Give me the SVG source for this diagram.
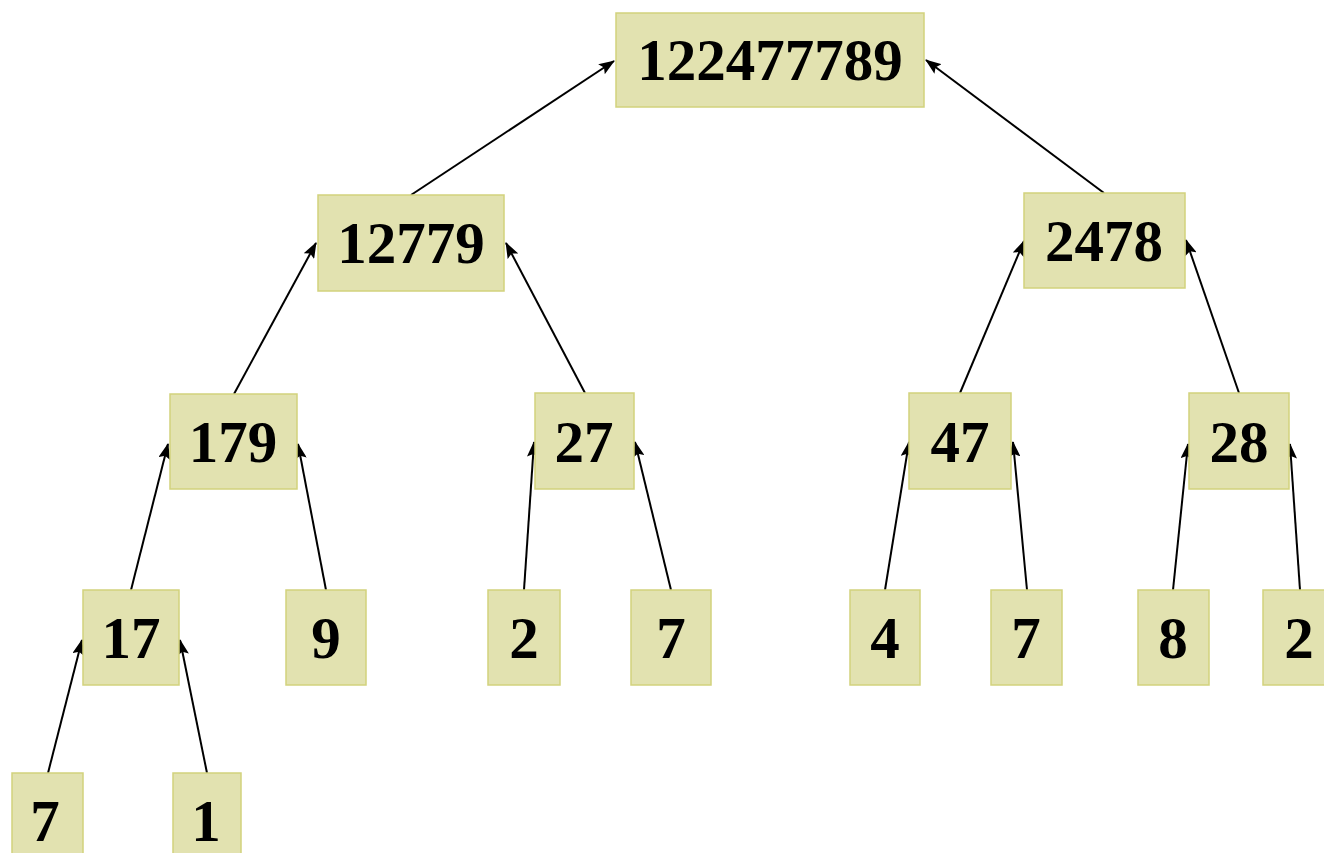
<svg xmlns="http://www.w3.org/2000/svg" width="1324" height="853" viewBox="0 0 1324 853">
<style>
.box{fill:#E2E2B0;stroke:#D2D27C;stroke-width:1.5}
.t{font-family:"Liberation Serif","DejaVu Serif",serif;font-weight:bold;font-size:59px;fill:#000;text-anchor:middle}
.c{stroke:#000;stroke-width:2;fill:none;marker-end:url(#ah)}
</style>
<defs>
<marker id="ah" markerWidth="16" markerHeight="12" refX="15" refY="6" orient="auto" markerUnits="userSpaceOnUse">
<path d="M0,0 L16,6 L0,12 L3,6 Z" fill="#000"/>
</marker>
</defs>
<rect width="1324" height="853" fill="#fff"/>
<g id="connectors">
<line class="c" x1="411" y1="195" x2="614" y2="61"/>
<line class="c" x1="1104" y1="193" x2="926" y2="60"/>
<line class="c" x1="234" y1="394" x2="316" y2="243"/>
<line class="c" x1="585" y1="393" x2="506" y2="243"/>
<line class="c" x1="960" y1="393" x2="1024" y2="241"/>
<line class="c" x1="1239" y1="393" x2="1186" y2="240"/>
<line class="c" x1="131" y1="590" x2="168" y2="444"/>
<line class="c" x1="326" y1="590" x2="298" y2="444"/>
<line class="c" x1="524" y1="590" x2="534" y2="442"/>
<line class="c" x1="671" y1="590" x2="635" y2="442"/>
<line class="c" x1="885" y1="590" x2="909" y2="442"/>
<line class="c" x1="1027" y1="590" x2="1013" y2="442"/>
<line class="c" x1="1173" y1="590" x2="1188" y2="444"/>
<line class="c" x1="1300" y1="590" x2="1290" y2="444"/>
<line class="c" x1="48" y1="773" x2="82" y2="640"/>
<line class="c" x1="207" y1="773" x2="180" y2="640"/>
</g>
<g id="n-root"><rect class="box" x="616" y="13" width="308" height="94"/><text class="t" x="770" y="80">122477789</text></g>
<g id="n-12779"><rect class="box" x="318" y="195" width="186" height="96"/><text class="t" x="411" y="263">12779</text></g>
<g id="n-2478"><rect class="box" x="1024" y="193" width="161" height="95"/><text class="t" x="1104" y="261">2478</text></g>
<g id="n-179"><rect class="box" x="170" y="394" width="127" height="95"/><text class="t" x="233" y="462">179</text></g>
<g id="n-27"><rect class="box" x="535" y="393" width="99" height="96"/><text class="t" x="584" y="462">27</text></g>
<g id="n-47"><rect class="box" x="909" y="393" width="102" height="96"/><text class="t" x="960" y="462">47</text></g>
<g id="n-28"><rect class="box" x="1189" y="393" width="100" height="96"/><text class="t" x="1239" y="462">28</text></g>
<g id="n-17"><rect class="box" x="83" y="590" width="96" height="95"/><text class="t" x="131" y="658">17</text></g>
<g id="n-9"><rect class="box" x="286" y="590" width="80" height="95"/><text class="t" x="326" y="658">9</text></g>
<g id="n-2a"><rect class="box" x="488" y="590" width="72" height="95"/><text class="t" x="524" y="658">2</text></g>
<g id="n-7a"><rect class="box" x="631" y="590" width="80" height="95"/><text class="t" x="671" y="658">7</text></g>
<g id="n-4"><rect class="box" x="850" y="590" width="70" height="95"/><text class="t" x="885" y="658">4</text></g>
<g id="n-7b"><rect class="box" x="991" y="590" width="71" height="95"/><text class="t" x="1026" y="658">7</text></g>
<g id="n-8"><rect class="box" x="1138" y="590" width="71" height="95"/><text class="t" x="1173" y="658">8</text></g>
<g id="n-2b"><rect class="box" x="1263" y="590" width="70" height="95"/><text class="t" x="1299" y="658">2</text></g>
<g id="n-7c"><rect class="box" x="12" y="773" width="71" height="95"/><text class="t" x="45" y="841">7</text></g>
<g id="n-1"><rect class="box" x="173" y="773" width="68" height="95"/><text class="t" x="206" y="841">1</text></g>
</svg>
